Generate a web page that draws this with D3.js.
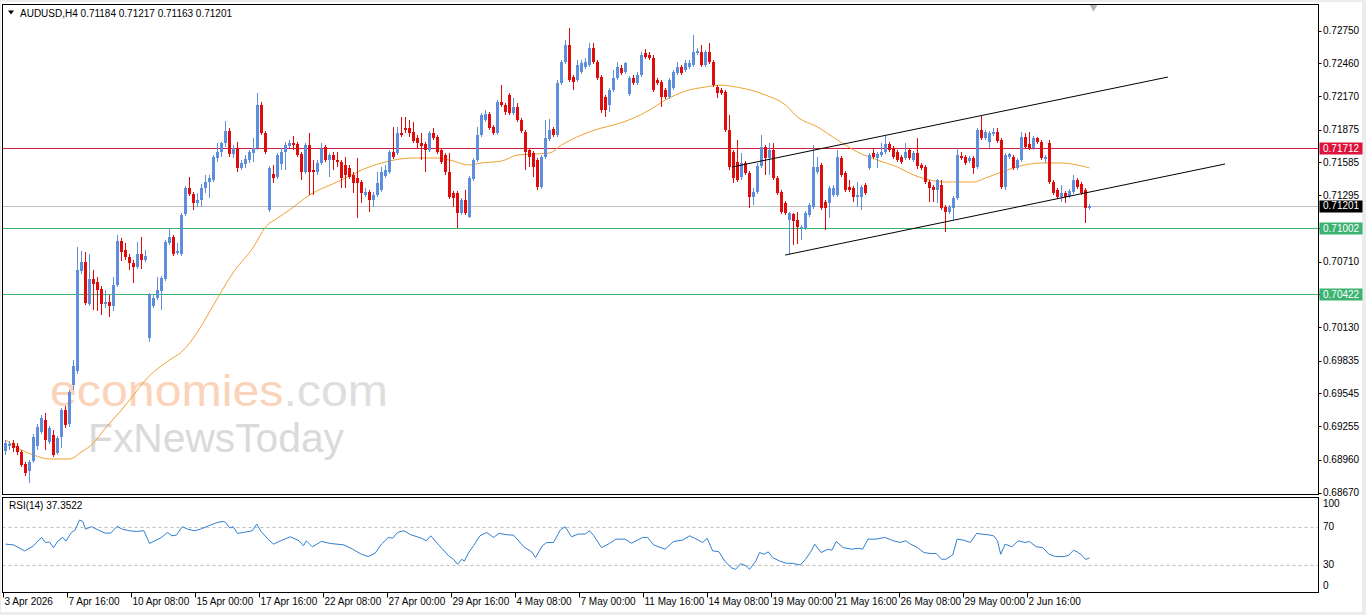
<!DOCTYPE html>
<html>
<head>
<meta charset="utf-8">
<script src="https://cdn.jsdelivr.net/npm/d3@7"></script>
<style>
  body { margin: 0; background: #ececec; }
  svg { display: block; }
  text { font-family: Tahoma, "Liberation Sans", Arial, sans-serif; font-size: 10px; fill: #000; }
</style>
</head>
<body>
<div id="wrapper"></div>
<script>
const symbol = "AUDUSD,H4";

// H4 bars: [open, high, low, close]
const candles = [
  [0.69036,0.69134,0.69001,0.69108],[0.69081,0.69125,0.69045,0.69099],[0.69108,0.69134,0.69027,0.69063],[0.69081,0.69108,0.69001,0.69027],
  [0.69027,0.69045,0.68895,0.68913],[0.68922,0.68939,0.68816,0.68843],[0.68860,0.68957,0.68755,0.68939],[0.68948,0.69187,0.68931,0.69160],
  [0.69081,0.69275,0.69045,0.69248],[0.69204,0.69355,0.69187,0.69328],[0.69310,0.69373,0.69045,0.69134],[0.69116,0.69257,0.69099,0.69240],
  [0.69178,0.69222,0.68983,0.69001],[0.69019,0.69169,0.69001,0.69152],[0.69160,0.69416,0.69063,0.69399],[0.69399,0.69434,0.69240,0.69266],
  [0.69275,0.69575,0.69248,0.69557],[0.69620,0.69840,0.69575,0.69787],[0.69743,0.70838,0.69717,0.70635],[0.70626,0.70802,0.70600,0.70705],
  [0.70705,0.70793,0.70326,0.70344],[0.70335,0.70776,0.70317,0.70556],[0.70556,0.70635,0.70282,0.70512],[0.70529,0.70573,0.70273,0.70458],
  [0.70467,0.70494,0.70238,0.70335],[0.70335,0.70458,0.70300,0.70352],[0.70352,0.70414,0.70220,0.70317],[0.70317,0.70573,0.70273,0.70503],
  [0.70503,0.70944,0.70485,0.70891],[0.70891,0.70917,0.70714,0.70793],[0.70811,0.70873,0.70723,0.70749],[0.70749,0.70776,0.70635,0.70697],
  [0.70697,0.70723,0.70520,0.70661],[0.70661,0.70882,0.70644,0.70776],[0.70776,0.70926,0.70644,0.70723],[0.70723,0.70811,0.70705,0.70758],
  [0.70035,0.70432,0.69999,0.70414],[0.70317,0.70414,0.70300,0.70388],[0.70388,0.70573,0.70370,0.70458],[0.70449,0.70582,0.70282,0.70565],
  [0.70556,0.70900,0.70538,0.70882],[0.70873,0.70997,0.70856,0.70926],[0.70926,0.70944,0.70758,0.70776],[0.70785,0.70873,0.70767,0.70802],
  [0.70776,0.71139,0.70758,0.71121],[0.71130,0.71376,0.71112,0.71359],[0.71359,0.71456,0.71288,0.71306],[0.71306,0.71324,0.71165,0.71227],
  [0.71227,0.71315,0.71191,0.71253],[0.71253,0.71394,0.71191,0.71359],[0.71359,0.71474,0.71315,0.71412],[0.71412,0.71474,0.71271,0.71447],
  [0.71430,0.71650,0.71412,0.71632],[0.71624,0.71757,0.71588,0.71677],[0.71677,0.71765,0.71632,0.71757],[0.71757,0.71950,0.71721,0.71862],
  [0.71862,0.71889,0.71632,0.71659],[0.71659,0.71739,0.71624,0.71712],[0.71712,0.71765,0.71500,0.71536],[0.71536,0.71606,0.71518,0.71580],
  [0.71571,0.71650,0.71536,0.71615],[0.71606,0.71694,0.71580,0.71677],[0.71668,0.71801,0.71588,0.71712],[0.71712,0.72198,0.71694,0.72092],
  [0.72092,0.72118,0.71827,0.71845],[0.71845,0.71862,0.71659,0.71677],[0.71165,0.71553,0.71147,0.71536],[0.71483,0.71562,0.71403,0.71447],
  [0.71456,0.71668,0.71439,0.71650],[0.71571,0.71712,0.71518,0.71677],[0.71677,0.71765,0.71518,0.71739],[0.71730,0.71783,0.71712,0.71757],
  [0.71757,0.71818,0.71694,0.71739],[0.71748,0.71765,0.71632,0.71650],[0.71659,0.71677,0.71430,0.71500],[0.71500,0.71757,0.71483,0.71739],
  [0.71739,0.71845,0.71297,0.71500],[0.71518,0.71606,0.71297,0.71500],[0.71500,0.71606,0.71474,0.71580],[0.71580,0.71757,0.71562,0.71703],
  [0.71721,0.71739,0.71588,0.71606],[0.71606,0.71668,0.71456,0.71650],[0.71650,0.71677,0.71518,0.71606],[0.71606,0.71677,0.71544,0.71588],
  [0.71588,0.71606,0.71359,0.71447],[0.71562,0.71632,0.71359,0.71474],[0.71536,0.71562,0.71439,0.71456],[0.71474,0.71500,0.71315,0.71403],
  [0.71447,0.71624,0.71094,0.71403],[0.71412,0.71430,0.71227,0.71315],[0.71297,0.71359,0.71280,0.71324],[0.71324,0.71341,0.71147,0.71253],
  [0.71253,0.71324,0.71191,0.71297],[0.71297,0.71500,0.71280,0.71403],[0.71341,0.71544,0.71324,0.71500],[0.71465,0.71562,0.71447,0.71518],
  [0.71500,0.71694,0.71483,0.71677],[0.71677,0.71898,0.71615,0.71632],[0.71668,0.71898,0.71650,0.71845],[0.71845,0.71986,0.71809,0.71827],
  [0.71889,0.71986,0.71845,0.71871],[0.71889,0.71959,0.71809,0.71845],[0.71854,0.71942,0.71757,0.71774],[0.71801,0.71827,0.71712,0.71757],
  [0.71757,0.71845,0.71606,0.71730],[0.71748,0.71765,0.71500,0.71694],[0.71694,0.71862,0.71677,0.71845],[0.71845,0.71889,0.71783,0.71801],
  [0.71809,0.71827,0.71659,0.71677],[0.71694,0.71712,0.71571,0.71588],[0.71650,0.71668,0.71474,0.71500],[0.71500,0.71668,0.71262,0.71280],
  [0.71315,0.71333,0.71191,0.71271],[0.71315,0.71333,0.71006,0.71139],[0.71139,0.71271,0.71121,0.71253],[0.71253,0.71341,0.71121,0.71139],
  [0.71103,0.71465,0.71094,0.71447],[0.71439,0.71624,0.71421,0.71606],[0.71606,0.71898,0.71588,0.71827],[0.71827,0.72021,0.71809,0.72004],
  [0.71959,0.72048,0.71942,0.72012],[0.72012,0.72030,0.71871,0.71889],[0.71898,0.71915,0.71827,0.71845],[0.71845,0.72136,0.71827,0.72118],
  [0.72118,0.72268,0.72074,0.72092],[0.72092,0.72110,0.72004,0.72030],[0.72180,0.72198,0.72004,0.72021],[0.72021,0.72154,0.72004,0.72074],
  [0.72074,0.72110,0.71942,0.71959],[0.71959,0.71977,0.71845,0.71862],[0.71854,0.71871,0.71518,0.71677],[0.71694,0.71712,0.71544,0.71632],
  [0.71668,0.71686,0.71456,0.71544],[0.71606,0.71624,0.71341,0.71368],[0.71368,0.71650,0.71350,0.71632],[0.71632,0.71959,0.71615,0.71801],
  [0.71792,0.71968,0.71774,0.71871],[0.71880,0.71898,0.71809,0.71827],[0.71827,0.72313,0.71809,0.72286],[0.72286,0.72489,0.72268,0.72471],
  [0.72471,0.72666,0.72454,0.72622],[0.72622,0.72772,0.72295,0.72313],[0.72339,0.72357,0.72224,0.72295],[0.72313,0.72489,0.72295,0.72445],
  [0.72383,0.72489,0.72366,0.72463],[0.72427,0.72507,0.72410,0.72471],[0.72445,0.72639,0.72427,0.72595],[0.72595,0.72639,0.72454,0.72471],
  [0.72471,0.72489,0.72313,0.72330],[0.72339,0.72357,0.72021,0.72048],[0.72163,0.72180,0.71986,0.72048],[0.72092,0.72242,0.72030,0.72224],
  [0.72224,0.72401,0.72207,0.72330],[0.72330,0.72471,0.72313,0.72427],[0.72418,0.72445,0.72357,0.72374],[0.72383,0.72471,0.72366,0.72463],
  [0.72189,0.72348,0.72171,0.72330],[0.72330,0.72357,0.72268,0.72286],[0.72286,0.72383,0.72268,0.72357],[0.72357,0.72560,0.72339,0.72533],
  [0.72551,0.72586,0.72498,0.72516],[0.72533,0.72560,0.72489,0.72507],[0.72507,0.72533,0.72207,0.72224],[0.72313,0.72330,0.72268,0.72286],
  [0.72295,0.72313,0.72074,0.72163],[0.72224,0.72242,0.72145,0.72163],[0.72163,0.72330,0.72145,0.72313],[0.72242,0.72401,0.72224,0.72383],
  [0.72374,0.72471,0.72357,0.72427],[0.72427,0.72445,0.72357,0.72374],[0.72401,0.72489,0.72383,0.72463],[0.72427,0.72489,0.72410,0.72463],
  [0.72445,0.72710,0.72427,0.72560],[0.72551,0.72595,0.72533,0.72568],[0.72560,0.72622,0.72427,0.72445],[0.72445,0.72577,0.72427,0.72560],
  [0.72560,0.72639,0.72454,0.72471],[0.72471,0.72489,0.72251,0.72268],[0.72251,0.72268,0.72154,0.72198],[0.72224,0.72242,0.72180,0.72198],
  [0.72207,0.72224,0.71854,0.71871],[0.71871,0.72004,0.71518,0.71544],[0.71677,0.71694,0.71403,0.71447],[0.71588,0.71783,0.71412,0.71430],
  [0.71456,0.71668,0.71430,0.71580],[0.71580,0.71597,0.71474,0.71492],[0.71492,0.71509,0.71182,0.71280],[0.71280,0.71359,0.71209,0.71324],
  [0.71324,0.71580,0.71306,0.71553],[0.71553,0.71827,0.71536,0.71721],[0.71721,0.71739,0.71474,0.71624],[0.71624,0.71757,0.71474,0.71694],
  [0.71694,0.71757,0.71430,0.71447],[0.71447,0.71465,0.71297,0.71315],[0.71324,0.71341,0.71130,0.71147],[0.71227,0.71244,0.71121,0.71139],
  [0.71076,0.71147,0.70776,0.71139],[0.71130,0.71139,0.70856,0.71068],[0.71076,0.71147,0.70864,0.71015],[0.71006,0.71032,0.70900,0.71015],
  [0.71006,0.71156,0.70988,0.71139],[0.71121,0.71227,0.71103,0.71209],[0.71191,0.71739,0.71174,0.71544],[0.71500,0.71632,0.71483,0.71544],
  [0.71562,0.71580,0.71165,0.71182],[0.71236,0.71253,0.70988,0.71182],[0.71227,0.71376,0.71094,0.71359],[0.71297,0.71386,0.71280,0.71359],
  [0.71297,0.71694,0.71280,0.71632],[0.71624,0.71641,0.71456,0.71474],[0.71492,0.71509,0.71324,0.71341],[0.71368,0.71430,0.71324,0.71341],
  [0.71359,0.71376,0.71236,0.71280],[0.71280,0.71412,0.71191,0.71297],[0.71280,0.71386,0.71165,0.71368],[0.71386,0.71403,0.71297,0.71315],
  [0.71536,0.71668,0.71518,0.71650],[0.71668,0.71712,0.71615,0.71632],[0.71624,0.71677,0.71536,0.71659],[0.71650,0.71757,0.71632,0.71677],
  [0.71677,0.71818,0.71659,0.71748],[0.71748,0.71765,0.71677,0.71694],[0.71712,0.71730,0.71615,0.71632],[0.71677,0.71694,0.71588,0.71606],
  [0.71632,0.71650,0.71571,0.71588],[0.71624,0.71757,0.71606,0.71677],[0.71694,0.71712,0.71606,0.71624],[0.71606,0.71686,0.71588,0.71668],
  [0.71668,0.71801,0.71527,0.71553],[0.71562,0.71580,0.71518,0.71536],[0.71544,0.71562,0.71394,0.71412],[0.71412,0.71430,0.71236,0.71359],
  [0.71368,0.71386,0.71236,0.71341],[0.71341,0.71439,0.71227,0.71430],[0.71386,0.71430,0.71165,0.71182],[0.71191,0.71209,0.70971,0.71147],
  [0.71147,0.71209,0.71130,0.71191],[0.71182,0.71288,0.71076,0.71271],[0.71271,0.71712,0.71253,0.71650],[0.71641,0.71677,0.71606,0.71624],
  [0.71632,0.71650,0.71562,0.71580],[0.71597,0.71641,0.71580,0.71624],[0.71624,0.71641,0.71483,0.71536],[0.71544,0.71889,0.71527,0.71871],
  [0.71871,0.71995,0.71783,0.71801],[0.71801,0.71871,0.71783,0.71854],[0.71765,0.71862,0.71712,0.71845],[0.71836,0.71889,0.71818,0.71854],
  [0.71854,0.71889,0.71757,0.71774],[0.71783,0.71801,0.71350,0.71368],[0.71368,0.71668,0.71341,0.71650],[0.71632,0.71668,0.71615,0.71659],
  [0.71632,0.71650,0.71518,0.71536],[0.71536,0.71624,0.71518,0.71606],[0.71606,0.71854,0.71588,0.71809],[0.71809,0.71845,0.71703,0.71721],
  [0.71748,0.71854,0.71694,0.71712],[0.71712,0.71818,0.71694,0.71801],[0.71801,0.71809,0.71748,0.71765],[0.71765,0.71783,0.71606,0.71624],
  [0.71615,0.71650,0.71580,0.71632],[0.71757,0.71783,0.71394,0.71412],[0.71412,0.71430,0.71297,0.71315],[0.71341,0.71359,0.71262,0.71280],
  [0.71280,0.71386,0.71236,0.71315],[0.71315,0.71333,0.71227,0.71280],[0.71288,0.71350,0.71271,0.71333],[0.71324,0.71474,0.71306,0.71430],
  [0.71430,0.71447,0.71350,0.71368],[0.71394,0.71412,0.71297,0.71315],[0.71341,0.71359,0.71050,0.71182],[0.71184,0.71217,0.71163,0.71201]
];

// moving average: [bar, price]
const maPoints = [
  [0,0.69134],[4,0.69045],[7,0.69001],[11,0.68966],[16,0.68966],[19,0.69028],[22,0.69107],[25,0.69240],
  [29,0.69399],[32,0.69531],[35,0.69664],[41,0.69840],[44,0.69911],[48,0.70087],[52,0.70326],[57,0.70617],
  [62,0.70838],[65,0.71015],[68,0.71094],[71,0.71165],[76,0.71297],[84,0.71430],[89,0.71518],[94,0.71580],
  [102,0.71624],[108,0.71624],[111,0.71606],[116,0.71562],[119,0.71580],[124,0.71597],[128,0.71650],[132,0.71659],
  [136,0.71668],[139,0.71739],[144,0.71827],[149,0.71889],[152,0.71915],[157,0.71977],[161,0.72048],[165,0.72136],
  [170,0.72215],[175,0.72251],[179,0.72268],[181,0.72260],[190,0.72180],[195,0.72092],[198,0.71986],[203,0.71898],
  [208,0.71783],[213,0.71677],[218,0.71606],[223,0.71544],[227,0.71474],[231,0.71430],[235,0.71412],[242,0.71412],
  [245,0.71447],[249,0.71500],[252,0.71536],[256,0.71571],[259,0.71580],[264,0.71580],[268,0.71562],[271,0.71536]
];

// RSI(14): [bar, value]
const rsiPoints = [
  [0,51.8],[2,51],[4.8,44.7],[7,50],[9,58.8],[10,53.5],[11,54],[12,48],[13.1,55],[14.3,58.8],[15.1,55],[16.5,64],
  [17.4,66.5],[18.5,77],[19.3,75.6],[20,67.5],[21.5,70],[23.2,66.5],[24.9,63.3],[26.3,63.3],[27.9,70.4],[29.3,67.2],
  [31,65.8],[32.7,65],[34.6,65.8],[36,52.5],[37.7,56],[39,58.8],[40.5,64],[41.6,60.5],[42.7,61.2],[44.2,70],
  [45.5,67.5],[47.2,65.8],[48.8,67.5],[50.8,71],[52.8,74.2],[54.4,75.6],[55,74.6],[56.1,68.6],[56.9,70],[58,63],
  [59.5,64],[61.7,65.8],[62.8,72.8],[63.9,65],[65.6,57],[67,51.8],[68.4,54.6],[71.2,59.5],[73.4,55.3],[74.5,50],
  [75.2,55.3],[76.7,49],[79,54.6],[81.2,52.5],[84.6,51],[86.8,46.5],[89,41.2],[90.7,38.8],[92.4,42.3],[94,51.8],
  [95.7,58.8],[96.8,58],[98,64],[99.6,65.8],[101.3,61.6],[104,58],[105.2,55.3],[106.3,60.5],[108.5,50],[110.8,39.5],
  [112,36],[113,30.7],[114.1,36],[114.7,34],[115.8,43],[117,50],[118.6,60.5],[120.3,64],[122,58.8],[123.4,63],
  [125.3,61.6],[127,61.2],[129.8,48.2],[131.5,44],[132.5,37.7],[134.2,50],[135.3,53.5],[137,53.5],[138.7,66.5],[139.9,70],
  [141.5,59.5],[143.2,62.3],[144.9,62.3],[146,65.8],[147.1,60.5],[149,48.2],[151,52.5],[152.6,57],[154.9,57],[156.5,52.8],
  [159.3,58.8],[160.5,58.8],[162,51],[164.9,46.5],[167,54.6],[169.3,56],[171,60.5],[172.3,58],[174.3,53.5],[175.4,58],
  [176.8,44.7],[178.3,44],[179.8,34.2],[181.4,27.2],[182.5,25.4],[183.8,31.4],[185.2,29],[186,25.4],[187.6,34.2],[188.5,43],
  [189.6,41.2],[190.7,43.7],[191.8,37.7],[193.5,34.2],[195.2,31.8],[196.7,31.8],[198.7,30],[200,36],[201.2,43],[202.3,51.8],
  [203.9,43],[205.6,46.5],[206.6,45.4],[207.7,54.6],[209.4,48.2],[211.6,46.5],[213.2,47.5],[214.3,46.5],[215.6,57],[217.6,57],
  [219.8,58.8],[222,55.3],[223.6,53.5],[225,55.3],[226.3,51.8],[228,48.2],[229.6,43],[231.3,42],[232.7,42],[234,36],
  [235.1,36],[236.8,40.5],[237.9,57],[239.5,56],[241.2,53.5],[242.8,63],[243.9,62.3],[245.6,61.6],[247,60.5],[248,55.3],
  [248.8,41.2],[249.9,51.8],[251.6,49],[253.2,55.3],[254.9,53.5],[256,54.6],[257.7,49],[259.3,48.2],[260.9,41.2],[262.5,38.8],
  [264.7,38.8],[265.8,40.2],[267,45.4],[268,43.5],[269,40.5],[270,35.8],[271,37.3522]
];

const priceTicks = [0.72750,0.72460,0.72170,0.71875,0.71585,0.71295,0.71005,0.70710,0.70420,0.70130,0.69835,0.69545,0.69255,0.68960,0.68670];
const rsiTicks = [100, 70, 30, 0];
const rsiLevels = [70, 30];

const timeLabels = [
  [0,"3 Apr 2026"],[16,"7 Apr 16:00"],[32,"10 Apr 08:00"],[48,"15 Apr 00:00"],[64,"17 Apr 16:00"],
  [80,"22 Apr 08:00"],[96,"27 Apr 00:00"],[112,"29 Apr 16:00"],[128,"4 May 08:00"],[144,"7 May 00:00"],
  [160,"11 May 16:00"],[176,"14 May 08:00"],[192,"19 May 00:00"],[208,"21 May 16:00"],[224,"26 May 08:00"],
  [240,"29 May 00:00"],[256,"2 Jun 16:00"]
];

// horizontal levels and the channel
const resistance = 0.71712;
const bidPrice = 0.71201;
const supports = [0.71002, 0.70422];
const channelUpper = [[181.6, 0.71544], [290.6, 0.72339]];
const channelLower = [[194.9, 0.70767], [304.9, 0.71571]];

var dimension = {
    width: 1366,
    height: 615,
    left: 2.5,
    right: 1318.5,
    mainTop: 4.5,
    mainBottom: 494.5,
    rsiTop: 497.5,
    rsiBottom: 592.5
}

const svg = d3.select("#wrapper")
    .append("svg")
    .attr("width", dimension.width)
    .attr("height", dimension.height)

svg.append("rect")
    .attr("x", 1).attr("y", 2)
    .attr("width", 1361).attr("height", 610)
    .attr("fill", "#fff")

var xScale = d3.scaleLinear()
    .domain([-0.625, 328.125])
    .range([3, 1318])

var yScale = d3.scaleLinear()
    .domain([0.6867, 0.7275])
    .range([492.5, 30.5])

var rsiScale = d3.scaleLinear()
    .domain([0, 100])
    .range([593.7, 498])

svg.append("clipPath").attr("id", "mainClip")
    .append("rect")
    .attr("x", dimension.left + 0.5).attr("y", dimension.mainTop + 0.5)
    .attr("width", dimension.right - dimension.left - 1)
    .attr("height", dimension.mainBottom - dimension.mainTop - 1)

svg.append("clipPath").attr("id", "rsiClip")
    .append("rect")
    .attr("x", dimension.left + 0.5).attr("y", dimension.rsiTop + 0.5)
    .attr("width", dimension.right - dimension.left - 1)
    .attr("height", dimension.rsiBottom - dimension.rsiTop - 1)

// watermark
const mark = svg.append("g").style("font-family", "\"Liberation Sans\", Arial, sans-serif")
const eco = mark.append("text")
    .attr("x", 50).attr("y", 406)
    .style("font-size", "45px")
    .attr("textLength", 338).attr("lengthAdjust", "spacingAndGlyphs")
eco.append("tspan").style("fill", "#fbd3b8").text("economies")
eco.append("tspan").style("fill", "#dedede").text(".com")
mark.append("text")
    .attr("x", 88).attr("y", 452)
    .style("font-size", "40px")
    .style("fill", "#dadada")
    .attr("textLength", 256).attr("lengthAdjust", "spacingAndGlyphs")
    .text("FxNewsToday")

const main = svg.append("g").attr("clip-path", "url(#mainClip)")

// level lines
main.append("line")
    .attr("x1", dimension.left).attr("x2", dimension.right)
    .attr("y1", Math.round(yScale(bidPrice)) + 0.5).attr("y2", Math.round(yScale(bidPrice)) + 0.5)
    .attr("stroke", "#c0c0c0")
main.selectAll("line.support")
    .data(supports)
    .enter()
    .append("line")
    .attr("class", "support")
    .attr("x1", dimension.left).attr("x2", dimension.right)
    .attr("y1", d => Math.round(yScale(d)) + 0.5).attr("y2", d => Math.round(yScale(d)) + 0.5)
    .attr("stroke", "#3cb371")
main.append("line")
    .attr("x1", dimension.left).attr("x2", dimension.right)
    .attr("y1", Math.round(yScale(resistance)) + 0.5).attr("y2", Math.round(yScale(resistance)) + 0.5)
    .attr("stroke", "#d01a40")

// moving average
var maLine = d3.line()
    .x(d => xScale(d[0]))
    .y(d => yScale(d[1]))
    .curve(d3.curveMonotoneX)
main.append("path")
    .datum(maPoints)
    .attr("d", maLine)
    .attr("fill", "none")
    .attr("stroke", "#f0a030")
    .attr("stroke-width", 1)

// candles
var bull = "#5d8fdc", bear = "#e00b0b";
var candleEnter = main.selectAll("g.candle")
    .data(candles)
    .enter()
    .append("g")
    .attr("class", "candle")
    .attr("shape-rendering", "crispEdges")
candleEnter.append("line")
    .attr("x1", (d, i) => xScale(i)).attr("x2", (d, i) => xScale(i))
    .attr("y1", d => yScale(d[1])).attr("y2", d => yScale(d[2]))
    .attr("stroke", d => d[3] >= d[0] ? bull : bear)
candleEnter.append("rect")
    .attr("x", (d, i) => xScale(i) - 1.5)
    .attr("width", 3)
    .attr("y", d => yScale(Math.max(d[0], d[3])))
    .attr("height", d => Math.max(1, Math.abs(yScale(d[0]) - yScale(d[3]))))
    .attr("fill", d => d[3] >= d[0] ? bull : bear)

// channel
var chLine = d3.line().x(d => xScale(d[0])).y(d => yScale(d[1]))
main.selectAll("path.channel")
    .data([channelUpper, channelLower])
    .enter()
    .append("path")
    .attr("class", "channel")
    .attr("d", chLine)
    .attr("fill", "none")
    .attr("stroke", "#000")
    .attr("stroke-width", 1)

// shift marker
svg.append("path")
    .attr("d", d3.symbol().type(d3.symbolTriangle).size(30))
    .attr("transform", `translate(${xScale(candles.length)},${dimension.mainTop + 2.5}) rotate(180)`)
    .attr("fill", "#b4b4b4")

// frames
svg.append("rect")
    .attr("x", dimension.left).attr("y", dimension.mainTop)
    .attr("width", dimension.right - dimension.left)
    .attr("height", dimension.mainBottom - dimension.mainTop)
    .attr("fill", "none").attr("stroke", "#000")
    .attr("shape-rendering", "crispEdges")
svg.append("rect")
    .attr("x", dimension.left).attr("y", dimension.rsiTop)
    .attr("width", dimension.right - dimension.left)
    .attr("height", dimension.rsiBottom - dimension.rsiTop)
    .attr("fill", "none").attr("stroke", "#000")
    .attr("shape-rendering", "crispEdges")

// price axis
var priceAxis = svg.append("g")
priceAxis.selectAll("line.tick")
    .data(priceTicks)
    .enter()
    .append("line")
    .attr("x1", dimension.right).attr("x2", dimension.right + 3)
    .attr("y1", d => Math.round(yScale(d)) + 0.5).attr("y2", d => Math.round(yScale(d)) + 0.5)
    .attr("stroke", "#000")
priceAxis.selectAll("text.tick")
    .data(priceTicks)
    .enter()
    .append("text")
    .attr("x", 1323)
    .attr("y", d => yScale(d) + 3.5)
    .text(d => d3.format(".5f")(d))

var tagData = [
    {p: resistance, bg: "#dc143c"},
    {p: bidPrice, bg: "#000"},
    {p: supports[0], bg: "#3cb371"},
    {p: supports[1], bg: "#3cb371"}
]
var tags = priceAxis.selectAll("g.tag")
    .data(tagData)
    .enter()
    .append("g")
    .attr("class", "tag")
tags.append("rect")
    .attr("x", dimension.right + 1)
    .attr("y", d => Math.round(yScale(d.p)) - 5.5)
    .attr("width", 43).attr("height", 12)
    .attr("fill", d => d.bg)
tags.append("text")
    .attr("x", 1323)
    .attr("y", d => yScale(d.p) + 3.5)
    .style("fill", "#fff")
    .text(d => d3.format(".5f")(d.p))

// RSI panel
const rsiG = svg.append("g").attr("clip-path", "url(#rsiClip)")
rsiG.selectAll("line.level")
    .data(rsiLevels)
    .enter()
    .append("line")
    .attr("x1", dimension.left).attr("x2", dimension.right)
    .attr("y1", d => Math.round(rsiScale(d)) + 0.5).attr("y2", d => Math.round(rsiScale(d)) + 0.5)
    .attr("stroke", "#c0c0c0")
    .attr("stroke-dasharray", "3,3")
rsiG.append("path")
    .datum(rsiPoints)
    .attr("d", d3.line().x(d => xScale(d[0])).y(d => rsiScale(d[1])))
    .attr("fill", "none")
    .attr("stroke", "#2f80d0")
    .attr("stroke-width", 1)

svg.selectAll("text.rsiTick")
    .data(rsiTicks)
    .enter()
    .append("text")
    .attr("x", 1323)
    .attr("y", d => Math.min(589, Math.max(507, rsiScale(d) + 3.5)))
    .text(d => d)

var lastRsi = rsiPoints[rsiPoints.length - 1][1]
svg.append("text")
    .attr("x", 9).attr("y", 509)
    .text("RSI(14) " + d3.format(".4f")(lastRsi))

// header
var last = candles[candles.length - 1]
svg.append("path")
    .attr("d", "M8,10.5 L14,10.5 L11,14.5 Z")
    .attr("fill", "#000")
svg.append("text")
    .attr("x", 20).attr("y", 16.5)
    .text(symbol + "  " + [last[0], last[1], last[2], last[3]].map(d3.format(".5f")).join(" "))

// time axis
var timeAxis = svg.append("g")
timeAxis.selectAll("line")
    .data(timeLabels)
    .enter()
    .append("line")
    .attr("x1", d => Math.round(xScale(d[0]) - 2.5) + 0.5)
    .attr("x2", d => Math.round(xScale(d[0]) - 2.5) + 0.5)
    .attr("y1", dimension.rsiBottom).attr("y2", dimension.rsiBottom + 5)
    .attr("stroke", "#000")
timeAxis.selectAll("text")
    .data(timeLabels)
    .enter()
    .append("text")
    .attr("x", d => xScale(d[0]) - 1)
    .attr("y", 605)
    .text(d => d[1])
</script>
</body>
</html>
